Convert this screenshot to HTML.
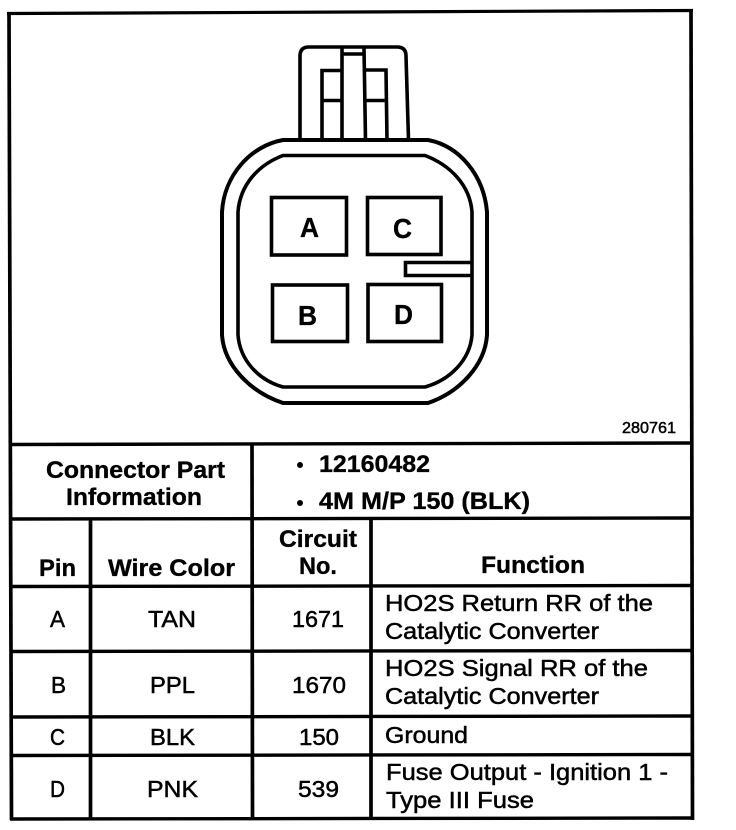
<!DOCTYPE html>
<html>
<head>
<meta charset="utf-8">
<style>
html,body{margin:0;padding:0;background:#fff;width:736px;height:830px;overflow:hidden}
svg{display:block}
text{font-family:"Liberation Sans",sans-serif;fill:#000}
.r{stroke:#000;stroke-width:.5px}
.b{font-weight:bold;stroke:#000;stroke-width:.35px}
</style>
</head>
<body>
<svg width="736" height="830" viewBox="0 0 736 830" xmlns="http://www.w3.org/2000/svg">
<rect width="736" height="830" fill="#fff"/>
<!-- frame -->
<g stroke="#000" fill="none" stroke-width="3.7">
<line x1="7" y1="13.5" x2="693" y2="10.500" stroke-width="3.200"/>
<line x1="9" y1="12" x2="11.500" y2="820"/>
<line x1="691" y1="9" x2="692.500" y2="820"/>
<line x1="9" y1="444.500" x2="693" y2="443" stroke-width="3.400"/>
<line x1="10" y1="519" x2="693" y2="518" stroke-width="3.400"/>
<line x1="10" y1="586.500" x2="693" y2="585.500" stroke-width="3.400"/>
<line x1="11" y1="651.500" x2="693" y2="650.500" stroke-width="3.400"/>
<line x1="11" y1="717" x2="693" y2="716" stroke-width="3.400"/>
<line x1="11" y1="755.500" x2="693" y2="754.500" stroke-width="3.400"/>
<line x1="10" y1="819" x2="694" y2="818" stroke-width="3.400"/>
<line x1="252" y1="444" x2="252.500" y2="820"/>
<line x1="90.500" y1="518" x2="90.500" y2="820"/>
<line x1="371" y1="518" x2="371" y2="820"/>
</g>
<!-- connector -->
<g stroke="#000" fill="none" stroke-width="3.6">
<path d="M300 140 L300 56 Q300 47 309 47 L397 47 Q406 47 406 56 L408.500 140"/>
<path d="M342 48 L342 140 M364 48 L365.500 140 M342 54 L364 54"/>
<path d="M322 140 L322 70.500 L342 70.500 M322 100.500 L342 100.500 M364 70 L386 70 L387 140 M365 100.500 L386 100.500"/>
<path stroke-width="4" d="M283 140 L428 140 C460 146 484 176 487 212 L487 335 C485 365 460 392 428 403 L283 403 C250 392 224 365 222 335 L222 212 C224 176 250 146 283 140Z"/>
<path d="M283 155.500 L425 155.500 C450 165 470 185 472 212 L472 335 C470 360 450 380 425 387 L283 387 C258 380 240 360 238 335 L238 212 C240 185 258 165 283 155.500Z"/>
<rect x="271.500" y="197.500" width="75" height="57.500"/>
<rect x="367.500" y="197.500" width="73.500" height="57"/>
<rect x="272.500" y="285" width="75" height="56.500"/>
<rect x="368" y="284.500" width="73.500" height="57"/>
<path d="M472 262.500 L405.500 262.500 L405.500 275.500 L472 275.500"/>
</g>
<g font-size="28">
<text x="300" y="237" textLength="19" lengthAdjust="spacingAndGlyphs" class="b">A</text>
<text x="393" y="238" textLength="19" lengthAdjust="spacingAndGlyphs" class="b">C</text>
<text x="298" y="325" textLength="19" lengthAdjust="spacingAndGlyphs" class="b">B</text>
<text x="394" y="324" textLength="19" lengthAdjust="spacingAndGlyphs" class="b">D</text>
</g>
<text x="622" y="433" font-size="16" class="r" textLength="54" lengthAdjust="spacingAndGlyphs">280761</text>
<!-- header -->
<g font-size="24">
<text class="b" x="46" y="478" textLength="179" lengthAdjust="spacingAndGlyphs">Connector Part</text>
<text class="b" x="66" y="505" textLength="136" lengthAdjust="spacingAndGlyphs">Information</text>
<text class="b" x="319" y="472" textLength="111" lengthAdjust="spacingAndGlyphs">12160482</text>
<text class="b" x="319" y="509" textLength="211" lengthAdjust="spacingAndGlyphs">4M M/P 150 (BLK)</text>
<text class="b" x="279" y="547" textLength="78" lengthAdjust="spacingAndGlyphs">Circuit</text>
<text class="b" x="299" y="574" textLength="38" lengthAdjust="spacingAndGlyphs">No.</text>
<text class="b" x="39" y="576" textLength="37" lengthAdjust="spacingAndGlyphs">Pin</text>
<text class="b" x="108" y="576" textLength="127" lengthAdjust="spacingAndGlyphs">Wire Color</text>
<text class="b" x="481" y="573" textLength="104" lengthAdjust="spacingAndGlyphs">Function</text>
</g>
<circle cx="300" cy="465" r="3"/>
<circle cx="300" cy="503" r="3"/>
<!-- rows -->
<g font-size="23.500">
<text class="r" x="50" y="627" textLength="15" lengthAdjust="spacingAndGlyphs">A</text>
<text class="r" x="148" y="627" textLength="48" lengthAdjust="spacingAndGlyphs">TAN</text>
<text class="r" x="292" y="627" textLength="52" lengthAdjust="spacingAndGlyphs">1671</text>
<text class="r" x="51" y="693" textLength="15" lengthAdjust="spacingAndGlyphs">B</text>
<text class="r" x="150" y="693" textLength="45" lengthAdjust="spacingAndGlyphs">PPL</text>
<text class="r" x="292" y="693" textLength="54" lengthAdjust="spacingAndGlyphs">1670</text>
<text class="r" x="50" y="745" textLength="15" lengthAdjust="spacingAndGlyphs">C</text>
<text class="r" x="150" y="745" textLength="45" lengthAdjust="spacingAndGlyphs">BLK</text>
<text class="r" x="299" y="745" textLength="40" lengthAdjust="spacingAndGlyphs">150</text>
<text class="r" x="50" y="797" textLength="15" lengthAdjust="spacingAndGlyphs">D</text>
<text class="r" x="147" y="797" textLength="51" lengthAdjust="spacingAndGlyphs">PNK</text>
<text class="r" x="298" y="797" textLength="41" lengthAdjust="spacingAndGlyphs">539</text>
<text class="r" x="385" y="611" textLength="268" lengthAdjust="spacingAndGlyphs">HO2S Return RR of the</text>
<text class="r" x="385" y="639" textLength="214" lengthAdjust="spacingAndGlyphs">Catalytic Converter</text>
<text class="r" x="385" y="676" textLength="263" lengthAdjust="spacingAndGlyphs">HO2S Signal RR of the</text>
<text class="r" x="385" y="704" textLength="214" lengthAdjust="spacingAndGlyphs">Catalytic Converter</text>
<text class="r" x="385" y="743" textLength="83" lengthAdjust="spacingAndGlyphs">Ground</text>
<text class="r" x="386" y="780" textLength="282" lengthAdjust="spacingAndGlyphs">Fuse Output - Ignition 1 -</text>
<text class="r" x="386" y="808" textLength="148" lengthAdjust="spacingAndGlyphs">Type III Fuse</text>
</g>
</svg>
</body>
</html>
